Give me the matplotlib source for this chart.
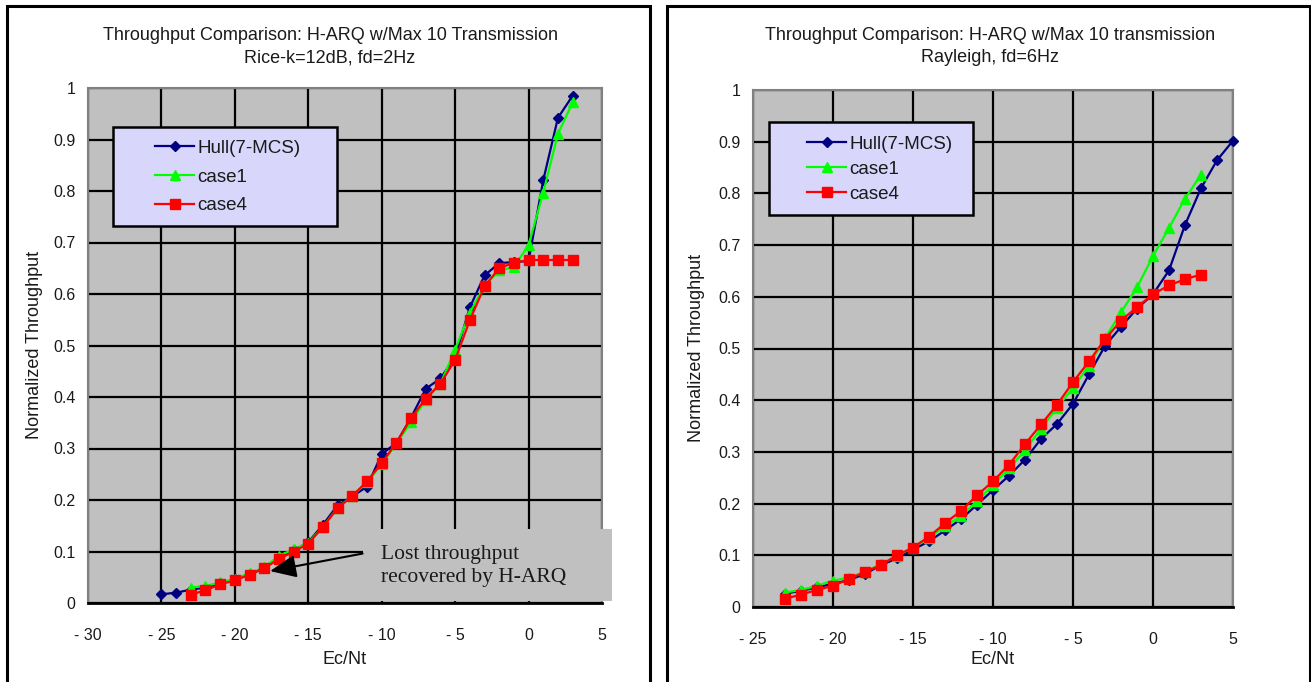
import matplotlib
matplotlib.use("Agg")
import matplotlib.pyplot as plt
from matplotlib.patches import Rectangle
from matplotlib.ticker import FuncFormatter
import numpy as np

# ---------------- data ----------------
titles_left = ["Throughput Comparison: H-ARQ w/Max 10 Transmission", "Rice-k=12dB, fd=2Hz"]
titles_right = ["Throughput Comparison: H-ARQ w/Max 10 transmission", "Rayleigh, fd=6Hz"]
series_names = ["Hull(7-MCS)", "case1", "case4"]

x_hull_L = list(range(-25, 4))
hull_L = [0.017, 0.020, 0.026, 0.030, 0.038, 0.046, 0.056, 0.067, 0.089, 0.102,
          0.118, 0.152, 0.190, 0.207, 0.226, 0.289, 0.311, 0.360, 0.416, 0.436,
          0.478, 0.574, 0.636, 0.660, 0.662, 0.664, 0.821, 0.942, 0.985]
x_case_L = list(range(-23, 4))
case1_L = [0.030, 0.033, 0.040, 0.047, 0.058, 0.069, 0.092, 0.104, 0.117, 0.148,
           0.185, 0.208, 0.235, 0.269, 0.310, 0.351, 0.395, 0.426, 0.492, 0.564,
           0.616, 0.646, 0.652, 0.695, 0.797, 0.911, 0.972]
case4_L = [0.016, 0.025, 0.036, 0.044, 0.055, 0.068, 0.085, 0.100, 0.115, 0.148,
           0.184, 0.208, 0.236, 0.272, 0.311, 0.359, 0.397, 0.426, 0.472, 0.549,
           0.615, 0.650, 0.661, 0.666, 0.666, 0.666, 0.666]

x_hull_R = list(range(-23, 6))
hull_R = [0.026, 0.031, 0.038, 0.045, 0.052, 0.064, 0.081, 0.094, 0.111, 0.127,
          0.148, 0.170, 0.198, 0.226, 0.254, 0.285, 0.325, 0.354, 0.393, 0.450,
          0.505, 0.542, 0.577, 0.605, 0.651, 0.739, 0.810, 0.864, 0.902]
x_case_R = list(range(-23, 4))
case1_R = [0.028, 0.033, 0.041, 0.051, 0.057, 0.068, 0.083, 0.099, 0.115, 0.134,
           0.156, 0.176, 0.205, 0.236, 0.268, 0.303, 0.345, 0.385, 0.424, 0.467,
           0.520, 0.570, 0.618, 0.679, 0.733, 0.790, 0.836]
case4_R = [0.016, 0.024, 0.033, 0.041, 0.054, 0.068, 0.081, 0.100, 0.115, 0.136,
           0.162, 0.186, 0.216, 0.243, 0.275, 0.315, 0.353, 0.391, 0.435, 0.475,
           0.518, 0.554, 0.580, 0.605, 0.622, 0.634, 0.643]

xticks_L = [-30, -25, -20, -15, -10, -5, 0, 5]
xticks_R = [-25, -20, -15, -10, -5, 0, 5]
yticks = [0, 0.1, 0.2, 0.3, 0.4, 0.5, 0.6, 0.7, 0.8, 0.9, 1.0]
annotation_text = "Lost throughput\nrecovered by H-ARQ"
xlabel = "Ec/Nt"
ylabel = "Normalized Throughput"

# ---------------- style ----------------
plt.rcParams['font.family'] = ['Liberation Sans', 'DejaVu Sans']
W, H = 1311, 682
fig = plt.figure(figsize=(W / 100, H / 100), dpi=100)
TXT = '#1a1a1a'


def fx(px):
    return px / W


def fy(py):
    return 1 - py / H


# panel frames
for (x0, x1) in [(7, 650), (667, 1310)]:
    fig.patches.append(Rectangle((fx(x0), fy(H + 5)), fx(x1 - x0), (H + 5 - 6) / H,
                                 transform=fig.transFigure, fill=False,
                                 edgecolor='black', linewidth=2.2, zorder=0))

PLOT_BG = '#C0C0C0'
LEG_BG = '#D9D6FC'
colors = ['#000080', '#00FF00', '#FF0000']
markers = ['D', '^', 's']
msizes = [5.5, 7.5, 7]


def tick_fmt(v, p):
    s = '%g' % round(v, 2)
    return s.replace('-', '- ')


fmt = FuncFormatter(tick_fmt)


def make_axes(px_left, px_right, px_top, px_bottom):
    ax = fig.add_axes([fx(px_left), fy(px_bottom), fx(px_right - px_left),
                       (px_bottom - px_top) / H])
    ax.set_facecolor(PLOT_BG)
    for s in ['left', 'right', 'top']:
        ax.spines[s].set_color('#808080')
        ax.spines[s].set_linewidth(1.5)
    ax.spines['bottom'].set_color('black')
    ax.spines['bottom'].set_linewidth(2)
    ax.grid(True, color='black', linewidth=1.6)
    ax.set_axisbelow(True)
    ax.tick_params(length=0, labelsize=11.5, labelcolor=TXT)
    ax.tick_params(axis='x', pad=18)
    ax.tick_params(axis='y', pad=9)
    ax.yaxis.set_major_formatter(fmt)
    ax.xaxis.set_major_formatter(fmt)
    return ax


def plot_series(ax, xs, ys_list):
    handles = []
    for (x, y), c, m, ms, name in zip(zip(xs, ys_list), colors, markers, msizes, series_names):
        h, = ax.plot(x, y, color=c, marker=m, markersize=ms, linewidth=1.6,
                     markeredgecolor=c, label=name, zorder=4, clip_on=False)
        handles.append(h)
    return handles


def add_legend(ax, frame, anchor, spacing):
    x0, y0, x1, y1 = frame
    ax.add_patch(Rectangle((x0, y0), x1 - x0, y1 - y0, transform=ax.transAxes,
                           facecolor=LEG_BG, edgecolor='black', linewidth=1.8, zorder=5))
    leg = ax.legend(loc='center left', bbox_to_anchor=anchor, frameon=False,
                    borderpad=0, handlelength=2.1, handletextpad=0.15,
                    labelspacing=spacing, fontsize=13.5)
    leg.set_zorder(6)
    for t in leg.get_texts():
        t.set_color(TXT)
    return leg


# ---- left chart ----
axL = make_axes(88, 602, 88, 603)
axL.set_xlim(-30, 5)
axL.set_ylim(0, 1)
axL.set_xticks(xticks_L)
axL.set_yticks(yticks)
plot_series(axL, [x_hull_L, x_case_L, x_case_L], [hull_L, case1_L, case4_L])
add_legend(axL, (0.048, 0.732, 0.484, 0.925), (0.112, 0.827), 0.62)

# annotation box (gray panel over the lower right of the plot)
axL.add_patch(Rectangle((-11.3, 0.004), 17.0, 0.140, facecolor=PLOT_BG,
                        edgecolor='none', zorder=3, clip_on=False))
axL.text(-10.05, 0.072, annotation_text, family=['Liberation Serif', 'DejaVu Serif'],
         fontsize=15.5, va='center', ha='left', linespacing=1.3, zorder=7,
         clip_on=False, color=TXT)
axL.annotate('', xy=(-17.6, 0.062), xytext=(-11.3, 0.096),
             arrowprops=dict(arrowstyle='-|>,head_length=1.6,head_width=0.7',
                             mutation_scale=10, color='black', lw=1.5,
                             shrinkA=0, shrinkB=0), zorder=7)

# ---- right chart ----
axR = make_axes(753, 1233, 90, 607)
axR.set_xlim(-25, 5)
axR.set_ylim(0, 1)
axR.set_xticks(xticks_R)
axR.set_yticks(yticks)
plot_series(axR, [x_hull_R, x_case_R, x_case_R], [hull_R, case1_R, case4_R])
add_legend(axR, (0.033, 0.758, 0.458, 0.938), (0.093, 0.847), 0.42)

# titles and axis labels
for cx, tl in [(330, titles_left), (990, titles_right)]:
    fig.text(fx(cx), fy(35), tl[0], ha='center', va='center', fontsize=13, color=TXT)
    fig.text(fx(cx), fy(58), tl[1], ha='center', va='center', fontsize=13, color=TXT)

for cx in [345, 993]:
    fig.text(fx(cx), fy(660), xlabel, ha='center', va='center', fontsize=13, color=TXT)
for cxl, cy in [(35, 345), (697, 348)]:
    fig.text(fx(cxl), fy(cy), ylabel, ha='center', va='center', rotation=90,
             fontsize=13, color=TXT)

fig.savefig("out.png", dpi=100)
